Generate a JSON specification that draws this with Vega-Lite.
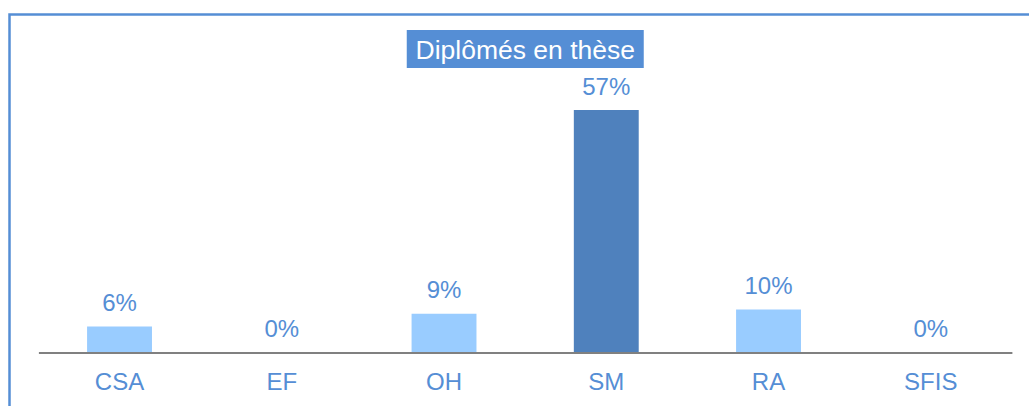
{
  "$schema": "https://vega.github.io/schema/vega-lite/v6.json",
  "autosize": "none",
  "padding": {"left": 9.5, "top": 14.5, "right": -12, "bottom": -18.5},
  "width": 1031.5,
  "height": 410,
  "background": "white",
  "config": {
    "view": {"stroke": "#558ED5", "strokeWidth": 2.5, "fill": "white"},
    "font": "Liberation Sans"
  },
  "data": {
    "values": [
      {"cat": "CSA", "value": 0.06},
      {"cat": "EF", "value": 0.0},
      {"cat": "OH", "value": 0.09},
      {"cat": "SM", "value": 0.57},
      {"cat": "RA", "value": 0.10},
      {"cat": "SFIS", "value": 0.0}
    ]
  },
  "encoding": {
    "x": {
      "field": "cat",
      "type": "nominal",
      "sort": null,
      "scale": {"range": [28.9, 1002.4], "paddingInner": 0.6, "paddingOuter": 0.3},
      "axis": {
        "title": null,
        "orient": "bottom",
        "offset": -72,
        "domainColor": "#808080",
        "domainWidth": 2,
        "ticks": false,
        "tickSize": 0,
        "grid": false,
        "labelFont": "Liberation Sans",
        "labelFontSize": 24,
        "labelColor": "#558ED5",
        "labelBaseline": "alphabetic",
        "labelPadding": 37,
        "labelAngle": 0
      }
    }
  },
  "layer": [
    {
      "mark": {"type": "bar"},
      "encoding": {
        "y": {
          "field": "value",
          "type": "quantitative",
          "scale": {"domain": [-0.17076, 0.79495], "nice": false, "zero": false},
          "axis": null
        },
        "y2": {"datum": 0},
        "color": {
          "condition": {"test": "datum.cat === 'SM'", "value": "#4F81BD"},
          "value": "#99CCFF"
        }
      }
    },
    {
      "mark": {"type": "text", "baseline": "alphabetic", "dy": -15.5, "fontSize": 24, "color": "#558ED5", "font": "Liberation Sans"},
      "encoding": {
        "y": {"field": "value", "type": "quantitative"},
        "text": {"field": "value", "type": "quantitative", "format": ".0%"}
      }
    },
    {
      "data": {"values": [{"t": "Diplômés en thèse"}]},
      "mark": {"type": "point", "shape": "M-1,-0.1603H1V0.1603H-1Z", "size": 56169, "filled": true, "opacity": 1, "color": "#558ED5", "strokeWidth": 0},
      "encoding": {
        "x": null,
        "y": {"datum": 0.71368, "type": "quantitative"}
      }
    },
    {
      "data": {"values": [{"t": "Diplômés en thèse"}]},
      "mark": {"type": "text", "baseline": "alphabetic", "dy": 10.3, "fontSize": 26.5, "color": "white", "font": "Liberation Sans"},
      "encoding": {
        "x": null,
        "y": {"datum": 0.71368, "type": "quantitative"},
        "text": {"field": "t", "type": "nominal"}
      }
    }
  ]
}
